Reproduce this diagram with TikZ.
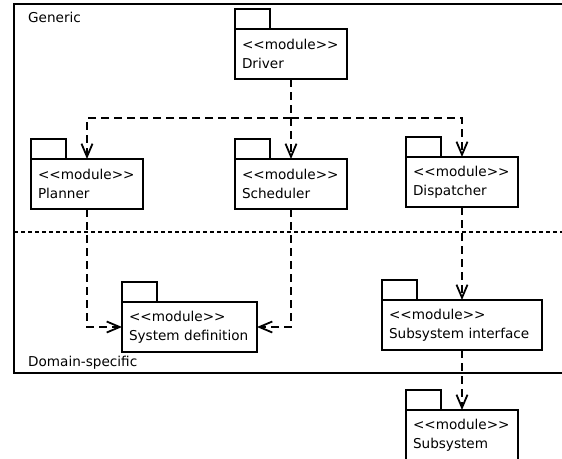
\documentclass[tikz,border=0pt]{standalone}
\usepackage{fontspec}
\setmainfont{DejaVu Sans}[Ligatures=TeXOff]
\usetikzlibrary{arrows.meta}
\tikzset{
  lw/.style={line width=1.8pt},
  modbody/.style={draw, lw, fill=white, inner xsep=7pt, inner ysep=0pt, outer sep=0pt,
    minimum height=50pt, align=left, anchor=north west,
    font=\fontsize{13.6}{18.5}\selectfont},
  modtab/.style={draw, lw, fill=white, minimum width=35pt, minimum height=20pt,
    inner sep=0pt, outer sep=0pt, anchor=south west},
  dep/.style={lw, dash pattern=on 8pt off 5pt, -{Straight Barb[length=13pt,width=11pt]}},
  depline/.style={lw, dash pattern=on 8pt off 5pt},
  lbl/.style={anchor=west, inner sep=0pt, font=\fontsize{13.6}{16}\selectfont}
}
\begin{document}
\begin{tikzpicture}[x=1pt,y=-1pt]
\useasboundingbox (0,0) rectangle (562,458);
\clip (0,0) rectangle (562,458);
\fill[white] (0,0) rectangle (562,458);
% frame
\draw[lw] (14,4) rectangle (575,373);
\draw[lw, dash pattern=on 4pt off 3pt] (14,232) -- (575,232);
\node[lbl] (generic) at (28,17) {Generic};
\node[lbl] (domain) at (28,363) {Domain-specific};
% modules
\node[modbody, text width=98pt] (driver) at (235,29) {<<module>>\\Driver};
\node[modtab] (drivertab) at (driver.north west) {};
\node[modbody, text width=98pt] (planner) at (31,159) {<<module>>\\Planner};
\node[modtab] (plannertab) at (planner.north west) {};
\node[modbody, text width=98pt] (scheduler) at (235,159) {<<module>>\\Scheduler};
\node[modtab] (schedulertab) at (scheduler.north west) {};
\node[modbody, text width=98pt] (dispatcher) at (406,157) {<<module>>\\Dispatcher};
\node[modtab] (dispatchertab) at (dispatcher.north west) {};
\node[modbody, text width=121pt] (sysdef) at (122,302) {<<module>>\\System definition};
\node[modtab] (sysdeftab) at (sysdef.north west) {};
\node[modbody, text width=146pt] (subif) at (382,300) {<<module>>\\Subsystem interface};
\node[modtab] (subiftab) at (subif.north west) {};
\node[modbody, text width=98pt] (subsys) at (406,410) {<<module>>\\Subsystem};
\node[modtab] (subsystab) at (subsys.north west) {};
% connectors
\coordinate (j) at (driver.south |- 0,118);
\draw[depline] (driver.south) -- (j);
\draw[dep] (j) -| (planner.north);
\draw[dep] (j) -- (scheduler.north);
\draw[dep] (j) -| (dispatcher.north);
\draw[dep] (planner.south) |- (sysdef.west);
\draw[dep] (scheduler.south) |- (sysdef.east);
\draw[dep] (dispatcher.south) -- (dispatcher.south |- subif.north);
\draw[dep] (subif.south) -- (subif.south |- subsys.north);
\end{tikzpicture}
\end{document}
